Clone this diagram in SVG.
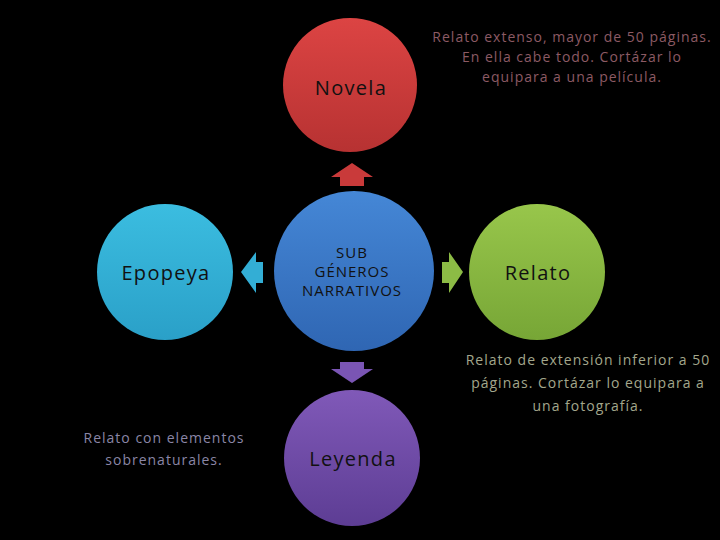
<svg xmlns="http://www.w3.org/2000/svg" width="720" height="540" viewBox="0 0 720 540">
<defs>
<linearGradient id="gRed" x1="0" y1="0" x2="0" y2="1"><stop offset="0" stop-color="#dc4443"/><stop offset="1" stop-color="#b73232"/></linearGradient>
<linearGradient id="gBlue" x1="0" y1="0" x2="0" y2="1"><stop offset="0" stop-color="#4587d6"/><stop offset="1" stop-color="#2f66b3"/></linearGradient>
<linearGradient id="gCyan" x1="0" y1="0" x2="0" y2="1"><stop offset="0" stop-color="#3bbde0"/><stop offset="1" stop-color="#2aa0c8"/></linearGradient>
<linearGradient id="gGreen" x1="0" y1="0" x2="0" y2="1"><stop offset="0" stop-color="#98c64b"/><stop offset="1" stop-color="#77a636"/></linearGradient>
<linearGradient id="gPurple" x1="0" y1="0" x2="0" y2="1"><stop offset="0" stop-color="#8059b8"/><stop offset="1" stop-color="#5d3d94"/></linearGradient>
</defs>
<style>
.lbl{font-family:"Open Sans","Noto Sans",sans-serif;fill:#111;text-anchor:middle}
.big{font-size:20px;letter-spacing:1.3px}
.mid{font-size:15px;letter-spacing:1px}
.desc{font-family:"Open Sans","Noto Sans",sans-serif;font-size:14px;text-anchor:middle;letter-spacing:1px}
</style>
<rect width="720" height="540" fill="#000"/>
<g id="connectors">
<polygon points="352,163 373,177 364,177 364,186 340,186 340,177 331,177" fill="#c93a3a"/>
<polygon points="352,383 373,369 364,369 364,362 340,362 340,369 331,369" fill="#7a55b4"/>
<polygon points="241,272 256,252 256,262 263,262 263,283 256,283 256,293" fill="#33aed5"/>
<polygon points="463,272 449,252 449,262 442,262 442,283 449,283 449,293" fill="#8cbb45"/>
</g>
<g id="center">
<circle cx="354" cy="271" r="80" fill="url(#gBlue)"/>
<text class="lbl mid" x="352" y="258">SUB</text>
<text class="lbl mid" x="352" y="277">GÉNEROS</text>
<text class="lbl mid" x="352" y="296">NARRATIVOS</text>
</g>
<g id="novela">
<circle cx="350" cy="85" r="67" fill="url(#gRed)"/>
<text class="lbl big" x="351" y="95">Novela</text>
</g>
<g id="epopeya">
<circle cx="165" cy="272" r="68" fill="url(#gCyan)"/>
<text class="lbl big" x="166" y="280">Epopeya</text>
</g>
<g id="relato">
<circle cx="537" cy="272" r="68" fill="url(#gGreen)"/>
<text class="lbl big" x="538" y="280">Relato</text>
</g>
<g id="leyenda">
<circle cx="352" cy="458" r="68" fill="url(#gPurple)"/>
<text class="lbl big" x="353" y="466">Leyenda</text>
</g>
<g id="desc-novela" fill="#8c5a64">
<text class="desc" x="572" y="42">Relato extenso, mayor de 50 páginas.</text>
<text class="desc" x="572" y="62">En ella cabe todo. Cortázar lo</text>
<text class="desc" x="572" y="82">equipara a una película.</text>
</g>
<g id="desc-relato" fill="#a3a78c">
<text class="desc" x="588" y="365">Relato de extensión inferior a 50</text>
<text class="desc" x="588" y="388">páginas. Cortázar lo equipara a</text>
<text class="desc" x="588" y="411">una fotografía.</text>
</g>
<g id="desc-leyenda" fill="#8a86a6">
<text class="desc" x="164" y="443">Relato con elementos</text>
<text class="desc" x="164" y="465">sobrenaturales.</text>
</g>
</svg>
